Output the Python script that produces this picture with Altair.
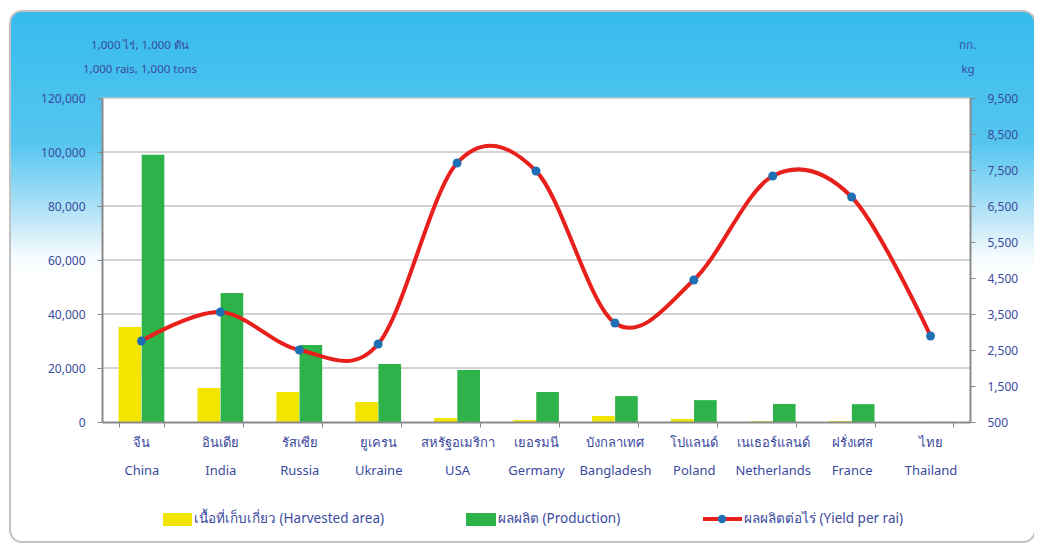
import altair as alt
import pandas as pd

# ---- data ----
countries_th = ["จีน", "อินเดีย", "รัสเซีย", "ยูเครน", "สหรัฐอเมริกา", "เยอรมนี",
                "บังกลาเทศ", "โปแลนด์", "เนเธอร์แลนด์", "ฝรั่งเศส", "ไทย"]
countries_en = ["China", "India", "Russia", "Ukraine", "USA", "Germany",
                "Bangladesh", "Poland", "Netherlands", "France", "Thailand"]
harvested = [35200, 12600, 11100, 7400, 1500, 700, 2200, 1100, 300, 400, 10]
production = [99000, 47800, 28500, 21500, 19300, 11100, 9600, 8100, 6700, 6600, 30]
yield_per_rai = [2750, 3556, 2500, 2667, 7694, 7472, 3250, 4444, 7333, 6750, 2889]

series_names = ["เนื้อที่เก็บเกี่ยว (Harvested area)", "ผลผลิต (Production)"]
line_name = "ผลผลิตต่อไร่ (Yield per rai)"
left_ticks = [0, 20000, 40000, 60000, 80000, 100000, 120000]
right_ticks = [500, 1500, 2500, 3500, 4500, 5500, 6500, 7500, 8500, 9500]
unit_left = ["1,000 ไร่,  1,000 ตัน", "1,000 rais,  1,000 tons"]
unit_right = ["กก.", "kg"]

# ---- styling ----
W, H = 868, 324
BLUE_TXT = "#3b4a9e"
YELLOW = "#f2e600"
GREEN = "#2db34a"
RED = "#e8201c"
DOT = "#1f6fb5"
AXIS_GRAY = "#8a8a8a"
FONT = "Noto Sans"

labels = [f"{t}|{e}" for t, e in zip(countries_th, countries_en)]
bars = pd.DataFrame({
    "country": labels * 2,
    "series": [series_names[0]] * 11 + [series_names[1]] * 11,
    "value": harvested + production,
})
line_df = pd.DataFrame({"country": labels, "yield": yield_per_rai})
grid_df = pd.DataFrame({"value": left_ticks[1:]})

xscale = alt.Scale(domain=labels, paddingInner=0.42, paddingOuter=0.21)
xaxis = alt.Axis(title=None, labelExpr="split(datum.label, '|')",
                 labelAngle=0, labelFont=FONT, labelFontSize=13,
                 labelColor=BLUE_TXT, labelLineHeight=28, labelPadding=9,
                 tickBand="extent", tickColor=AXIS_GRAY, tickSize=5,
                 domainColor=AXIS_GRAY, domainWidth=2, zindex=1)
xenc = alt.X("country:N", sort=labels, scale=xscale, axis=xaxis)

lscale = alt.Scale(domain=[0, 120000])
laxis = alt.Axis(title=None, values=left_ticks, labelExpr="format(datum.value, ',')",
                 orient="left",
                 labelFont=FONT, labelFontSize=12, labelColor=BLUE_TXT,
                 labelPadding=12, grid=False, tickColor=AXIS_GRAY,
                 tickSize=5, domainColor=AXIS_GRAY, domainWidth=2, zindex=1)
rscale = alt.Scale(domain=[500, 9500])
raxis = alt.Axis(title=None, values=right_ticks, labelExpr="format(datum.value, ',')",
                 orient="right",
                 labelFont=FONT, labelFontSize=12, labelColor=BLUE_TXT,
                 labelPadding=12, grid=False, tickColor=AXIS_GRAY,
                 tickSize=5, domainColor=AXIS_GRAY, domainWidth=2, zindex=1)

one = pd.DataFrame({"a": [0]})

# background panel with gradient
panel = alt.Chart(one).mark_rect(
    fill=alt.Gradient(gradient="linear", x1=0, x2=0, y1=0, y2=1,
                      stops=[alt.GradientStop(offset=0, color="#36bbed"),
                             alt.GradientStop(offset=0.25, color="#55c6ef"),
                             alt.GradientStop(offset=0.38, color="#b5e3f6"),
                             alt.GradientStop(offset=0.46, color="#f4fbfe"),
                             alt.GradientStop(offset=0.5, color="#ffffff"),
                             alt.GradientStop(offset=1, color="#ffffff")]),
    stroke="#c2c2c2", strokeWidth=2, cornerRadius=12
).encode(x=alt.value(-92), x2=alt.value(W + 65), y=alt.value(-87), y2=alt.value(H + 120))

plotbg = alt.Chart(one).mark_rect(fill="white").encode(
    x=alt.value(0), x2=alt.value(W), y=alt.value(0), y2=alt.value(H))

grid = alt.Chart(grid_df).mark_rule(color="#c4c4c4", strokeWidth=1.5).encode(
    y=alt.Y("value:Q", scale=lscale, axis=laxis))

bar = alt.Chart(bars).mark_bar().encode(
    x=xenc,
    xOffset=alt.XOffset("series:N", sort=series_names,
                        scale=alt.Scale(paddingInner=0.02, paddingOuter=0)),
    y=alt.Y("value:Q", scale=lscale, axis=laxis),
    color=alt.Color("series:N", sort=series_names,
                    scale=alt.Scale(domain=series_names, range=[YELLOW, GREEN]),
                    legend=None),
)

left_layer = alt.layer(grid, bar)

line = alt.Chart(line_df).mark_line(color=RED, strokeWidth=4, interpolate="cardinal").encode(
    x=xenc, y=alt.Y("yield:Q", scale=rscale, axis=raxis))
pts = alt.Chart(line_df).mark_point(filled=True, color=DOT, size=80, opacity=1).encode(
    x=xenc, y=alt.Y("yield:Q", scale=rscale, axis=raxis))
right_layer = alt.layer(line, pts)

# unit labels
units = pd.DataFrame({"t": unit_left + unit_right,
                      "px": [38, 38, 866, 866],
                      "py": [-52, -28, -52, -28]})
unit_txt = alt.Chart(units).mark_text(font=FONT, fontSize=11.5, color=BLUE_TXT,
                                      align="center", baseline="middle").encode(
    text="t:N", x=alt.X("px:Q", scale=None), y=alt.Y("py:Q", scale=None))

# legend (manual)
leg_rect = pd.DataFrame({"s": series_names, "x0": [61, 364], "x1": [90, 394]})
leg_rects = alt.Chart(leg_rect).mark_rect().encode(
    x=alt.X("x0:Q", scale=None), x2="x1:Q",
    y=alt.value(H + 91), y2=alt.value(H + 104),
    color=alt.Color("s:N", scale=alt.Scale(domain=series_names, range=[YELLOW, GREEN]),
                    legend=None))
leg_line = alt.Chart(one).mark_rule(color=RED, strokeWidth=4).encode(
    x=alt.value(601), x2=alt.value(640), y=alt.value(H + 97))
leg_dot = alt.Chart(one).mark_point(filled=True, color=DOT, size=70, opacity=1).encode(
    x=alt.value(620), y=alt.value(H + 97))
leg_text_df = pd.DataFrame({"t": series_names + [line_name], "px": [92, 396, 642]})
leg_text = alt.Chart(leg_text_df).mark_text(font=FONT, fontSize=13.5, color=BLUE_TXT,
                                            align="left", baseline="middle").encode(
    text="t:N", x=alt.X("px:Q", scale=None), y=alt.value(H + 97))

chart = alt.layer(
    panel, plotbg, left_layer, right_layer, unit_txt,
    leg_rects, leg_line, leg_dot, leg_text
).resolve_scale(y="independent", color="independent").properties(
    width=W, height=H,
    autosize=alt.AutoSizeParams(type="none"),
    padding={"left": 94, "top": 90, "right": 64, "bottom": 123},
    background="white",
).configure_view(stroke=None)

chart.save("out.html", embed_options={"renderer": "svg", "actions": False})
